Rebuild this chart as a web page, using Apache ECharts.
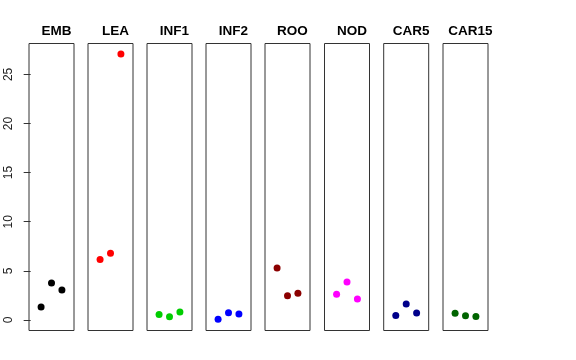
<!DOCTYPE html>
<html><head><meta charset="utf-8">
<script src="https://cdn.jsdelivr.net/npm/echarts@6/dist/echarts.min.js"></script>
<style>html,body{margin:0;padding:0;background:#fff}#c{width:576px;height:360px}</style>
</head><body><div id="c"></div>
<script>
const categories = ["EMB","LEA","INF1","INF2","ROO","NOD","CAR5","CAR15"];
const colors = ["#000000","#FF0000","#00CD00","#0000FF","#8B0000","#FF00FF","#00008B","#006400"];
const valuesEMB = [1.32, 3.76, 3.05];
const valuesLEA = [6.14, 6.78, 27.09];
const valuesINF1 = [0.54, 0.31, 0.81];
const valuesINF2 = [0.07, 0.74, 0.61];
const valuesROO = [5.29, 2.47, 2.71];
const valuesNOD = [2.61, 3.87, 2.14];
const valuesCAR5 = [0.44, 1.63, 0.71];
const valuesCAR15 = [0.68, 0.41, 0.34];
const yTicks = [0,5,10,15,20,25];
const allValues = [valuesEMB,valuesLEA,valuesINF1,valuesINF2,valuesROO,valuesNOD,valuesCAR5,valuesCAR15];

const yMin = -1.08, yMax = 28.15;
const panelLefts = [29, 88, 147, 206, 265, 324.5, 383.7, 443];
const panelW = 45;
const gridTop = 43.5, gridBottom = 360 - 330.5;

const grid = [], xAxis = [], yAxis = [], series = [], title = [];
categories.forEach((c, i) => {
  grid.push({left: panelLefts[i], width: panelW, top: gridTop, bottom: gridBottom, show: true,
    borderColor: '#333', borderWidth: 1, backgroundColor: 'transparent'});
  xAxis.push({type: 'value', gridIndex: i, min: -0.16, max: 4.16, show: false});
  yAxis.push({type: 'value', gridIndex: i, min: yMin, max: yMax, show: i === 0,
    splitLine: {show: false},
    axisLine: {show: false},
    axisTick: {show: true, length: 7, customValues: yTicks, lineStyle: {color: '#333'}},
    axisLabel: {show: true, customValues: yTicks, rotate: 90, margin: 14,
      fontFamily: 'Liberation Sans', fontSize: 12, color: '#222'}
  });
  series.push({type: 'scatter', xAxisIndex: i, yAxisIndex: i, symbolSize: 7,
    itemStyle: {color: colors[i], opacity: 1},
    data: allValues[i].map((v, j) => [j + 1, v])});
  title.push({text: c, left: panelLefts[i] + panelW / 2, top: 19, textAlign: 'center',
    textStyle: {fontFamily: 'Liberation Sans', fontWeight: 'bold', fontSize: 13.5, color: '#000'}});
});

const chart = echarts.init(document.getElementById('c'), null, {renderer: 'canvas'});
chart.setOption({animation: false, title, grid, xAxis, yAxis, series});
</script></body></html>
